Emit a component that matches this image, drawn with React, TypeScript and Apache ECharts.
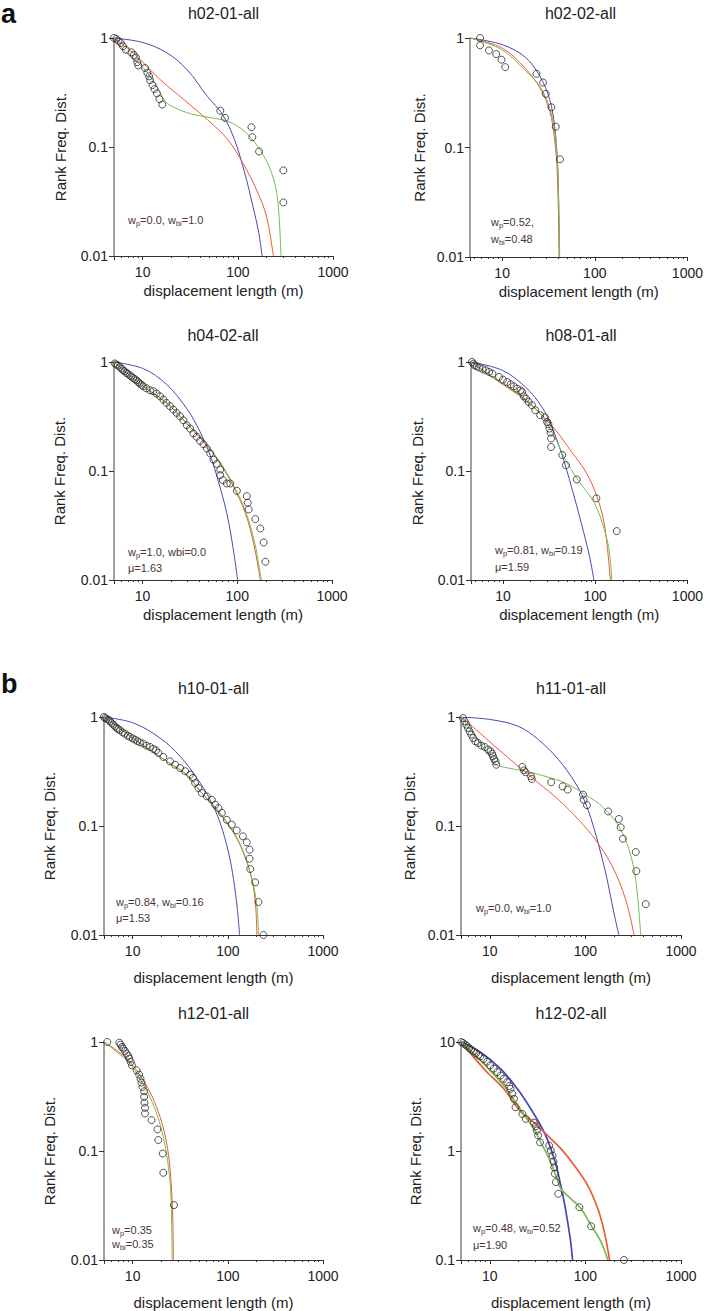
import React, { useEffect, useRef } from "react";
import * as echarts from "echarts";

type Pt = [number, number];

// ---------- text ----------
const panelTitles = ["h02-01-all", "h02-02-all", "h04-02-all", "h08-01-all", "h10-01-all", "h11-01-all", "h12-01-all", "h12-02-all"];
const xAxisName = "displacement length (m)";
const yAxisName = "Rank Freq. Dist.";
const groupLetters = ["a", "b"];
const annotations: string[][] = [
  ["{n|w}{s|p}{n|=0.0, w}{s|bi}{n|=1.0}"],
  ["{n|w}{s|p}{n|=0.52,}", "{n|w}{s|bi}{n|=0.48}"],
  ["{n|w}{s|p}{n|=1.0, wbi=0.0}", "{n|μ=1.63}"],
  ["{n|w}{s|p}{n|=0.81, w}{s|bi}{n|=0.19}", "{n|μ=1.59}"],
  ["{n|w}{s|p}{n|=0.84, w}{s|bi}{n|=0.16}", "{n|μ=1.53}"],
  ["{n|w}{s|p}{n|=0.0, w}{s|bi}{n|=1.0}"],
  ["{n|w}{s|p}{n|=0.35}", "{n|w}{s|bi}{n|=0.35}"],
  ["{n|w}{s|p}{n|=0.48, w}{s|bi}{n|=0.52}", "{n|μ=1.90}"],
];

// ---------- axis ranges ----------
const xMins = [5, 4.5, 5, 4.5, 5, 5, 5, 5];
const xMax = 1000;
const yMins = [0.01, 0.01, 0.01, 0.01, 0.01, 0.01, 0.01, 0.1];
const yMaxs = [1, 1, 1, 1, 1, 1, 1, 10];

// ---------- data: observed (circles), exponential (blue), power law (red), bi-exponential (green) ----------
const h0201Obs: Pt[] = [[5.0,1.0],[5.29,0.98],[5.56,0.945],[5.89,0.9],[6.22,0.84],[6.65,0.78],[7.64,0.74],[8.09,0.7],[8.49,0.66],[8.77,0.6],[8.99,0.56],[10.6,0.53],[11.2,0.48],[11.7,0.445],[12.0,0.41],[12.7,0.37],[13.3,0.34],[14.1,0.31],[15.0,0.275],[16.1,0.245],[65.5,0.215],[73.3,0.185],[139,0.152],[142,0.123],[167,0.091],[301,0.061],[301,0.031]];
const h0201Exp: Pt[] = [[5,1],[10,0.91],[18,0.73],[29.4,0.51],[48,0.29],[69.2,0.198],[92.2,0.117],[118,0.058],[144,0.0286],[166,0.0163],[180,0.01]];
const h0201Pow: Pt[] = [[5,1],[7.96,0.73],[15.3,0.415],[27.1,0.272],[48,0.178],[78.4,0.117],[113,0.071],[157,0.0406],[200,0.0231],[236,0.01]];
const h0201Bi: Pt[] = [[5,1],[6.76,0.73],[10.2,0.53],[14.1,0.36],[17.3,0.262],[22.1,0.228],[31.9,0.202],[48,0.188],[78.4,0.172],[118,0.139],[170,0.095],[226,0.058],[262,0.033],[284,0.01]];

const h0202Obs: Pt[] = [[5.78,1.0],[5.78,0.857],[7.21,0.77],[8.63,0.713],[9.84,0.634],[10.8,0.542],[23.5,0.471],[27.7,0.392],[29.6,0.309],[34.0,0.233],[37.9,0.155],[42.1,0.078]];
const h0202Exp: Pt[] = [[4.5,1],[10,0.87],[17.7,0.67],[25.6,0.446],[32.7,0.272],[36.9,0.155],[39.4,0.077],[40.7,0.033],[41.4,0.01]];
const h0202Pow: Pt[] = [[4.5,1],[10,0.81],[17.7,0.53],[25.6,0.35],[32.7,0.213],[36.9,0.117],[39.4,0.058],[41.4,0.01]];
const h0202Bi: Pt[] = [[4.5,1],[10,0.78],[17.7,0.505],[25.6,0.36],[32.7,0.228],[37.6,0.126],[40,0.058],[41.8,0.01]];

const h0402Obs: Pt[] = [[4.97,1.0],[5.1,0.97],[5.3,0.946],[5.5,0.93],[5.75,0.9],[6.0,0.87],[6.24,0.839],[6.5,0.82],[6.77,0.793],[7.0,0.78],[7.34,0.755],[7.6,0.735],[7.96,0.713],[8.3,0.695],[8.64,0.679],[9.0,0.655],[9.37,0.634],[9.8,0.615],[10.2,0.598],[11.0,0.574],[12.0,0.55],[13.0,0.539],[14.1,0.513],[15.3,0.484],[16.6,0.452],[17.9,0.421],[19.5,0.393],[21.1,0.366],[22.9,0.341],[24.9,0.318],[27.0,0.292],[29.3,0.263],[31.8,0.245],[34.4,0.221],[37.3,0.206],[40.5,0.189],[44.0,0.176],[47.7,0.161],[51.7,0.145],[56.1,0.127],[60.8,0.116],[66.1,0.103],[66.1,0.0916],[70.5,0.0824],[77.6,0.0768],[84.3,0.0768],[99.1,0.0658],[126,0.0588],[129,0.0511],[132,0.0444],[155,0.0362],[175,0.0297],[190,0.0221],[198,0.0147]];
const h0402Exp: Pt[] = [[4.97,1],[10.2,0.869],[17.9,0.624],[29.3,0.374],[40.5,0.229],[51.7,0.14],[63.4,0.0796],[77.6,0.0408],[89.9,0.0202],[101,0.01]];
const h0402Pow: Pt[] = [[4.97,1],[10.2,0.598],[17.9,0.421],[29.3,0.272],[44.0,0.185],[66.1,0.117],[91.4,0.0716],[122,0.0408],[149,0.0217],[168,0.0124],[175,0.01]];
const h0402Bi: Pt[] = [[4.97,1],[10.2,0.6],[17.9,0.425],[29.3,0.275],[44.0,0.19],[66.1,0.12],[91.4,0.074],[122,0.043],[152,0.0225],[172,0.0126],[180,0.01]];

const h0801Obs: Pt[] = [[4.61,1.0],[4.77,0.965],[4.93,0.932],[5.18,0.913],[5.53,0.887],[6.01,0.863],[6.52,0.839],[7.08,0.81],[7.69,0.782],[9.06,0.729],[10,0.689],[11.1,0.655],[12.1,0.624],[13.1,0.598],[14.2,0.57],[15.5,0.55],[16.1,0.531],[16.8,0.484],[17.8,0.461],[19.0,0.43],[20.6,0.401],[22.4,0.361],[25.3,0.325],[28.6,0.31],[30.1,0.282],[31.1,0.269],[31.9,0.245],[32.7,0.225],[33.2,0.199],[33.2,0.166],[44.0,0.14],[48.1,0.113],[63.1,0.0836],[103,0.0561],[171,0.0281]];
const h0801Exp: Pt[] = [[4.5,1],[9.84,0.839],[17.5,0.59],[26.4,0.387],[33.8,0.254],[43.2,0.145],[55.3,0.0716],[70.8,0.033],[86.9,0.0164],[96.8,0.01]];
const h0801Pow: Pt[] = [[4.5,1],[9.06,0.656],[17.5,0.446],[28.6,0.303],[39.8,0.221],[55.3,0.15],[76.9,0.102],[98.4,0.0668],[121,0.038],[134,0.0217],[146,0.01]];
const h0801Bi: Pt[] = [[4.5,1],[9.06,0.67],[17.5,0.455],[25.3,0.336],[32,0.25],[38,0.19],[46.9,0.13],[65.2,0.0824],[98.4,0.0504],[126,0.0287],[143,0.0176],[151,0.01]];

const h1001Obs: Pt[] = [[4.99,1.0],[5.15,0.979],[5.32,0.958],[5.58,0.945],[5.77,0.912],[6.01,0.881],[6.25,0.851],[6.52,0.821],[6.79,0.793],[7.07,0.776],[7.36,0.755],[7.85,0.723],[8.3,0.703],[8.86,0.674],[9.38,0.656],[10.0,0.637],[10.6,0.619],[11.2,0.602],[11.9,0.586],[12.9,0.569],[14.0,0.546],[15.2,0.531],[16.5,0.509],[17.6,0.494],[18.6,0.468],[21.0,0.43],[24.7,0.392],[27.9,0.365],[31.5,0.34],[35.6,0.318],[40.1,0.296],[42.9,0.276],[45.3,0.248],[49.1,0.223],[53.2,0.201],[60.1,0.187],[67.9,0.174],[73.6,0.157],[79.8,0.146],[86.5,0.132],[97.5,0.114],[110,0.103],[124,0.0912],[144,0.0804],[158,0.0708],[169,0.0607],[169,0.0501],[172,0.0403],[194,0.0304],[210,0.0201],[237,0.01]];
const h1001Exp: Pt[] = [[5,1],[10.2,0.881],[19.4,0.641],[31.5,0.436],[47.2,0.276],[65.2,0.174],[83,0.107],[102,0.0565],[115,0.0322],[126,0.0171],[133,0.01]];
const h1001Pow: Pt[] = [[5,1],[10.6,0.619],[22.8,0.392],[37.0,0.296],[51.2,0.208],[76.6,0.141],[115,0.0863],[146,0.0565],[179,0.0322],[196,0.0183],[202,0.01]];
const h1001Bi: Pt[] = [[5,1],[10.6,0.619],[22.8,0.392],[37.0,0.296],[51.2,0.21],[76.6,0.143],[115,0.088],[146,0.058],[179,0.033],[202,0.0185],[210,0.01]];

const h1101Obs: Pt[] = [[4.95,1.0],[5.24,0.979],[5.46,0.912],[5.68,0.851],[5.91,0.793],[6.15,0.739],[6.41,0.689],[6.68,0.642],[7.06,0.598],[7.53,0.577],[8.17,0.546],[8.85,0.531],[9.6,0.501],[10.2,0.484],[10.6,0.461],[10.8,0.436],[11.1,0.412],[11.5,0.392],[11.7,0.365],[21.9,0.348],[22.8,0.324],[23.7,0.311],[27.0,0.286],[27.5,0.27],[43.9,0.252],[57.7,0.231],[65.2,0.216],[94.4,0.194],[95.9,0.174],[104,0.155],[173,0.136],[224,0.116],[234,0.0972],[247,0.0765],[336,0.0577],[341,0.0386],[428,0.0192]];
const h1101Exp: Pt[] = [[5,1],[10.4,0.945],[19.9,0.821],[32.3,0.619],[52.4,0.406],[78.5,0.248],[100,0.163],[127,0.0863],[163,0.037],[199,0.0159],[224,0.01]];
const h1101Pow: Pt[] = [[5,1],[7.53,0.739],[11.3,0.538],[19.9,0.353],[32.3,0.248],[52.4,0.174],[85.1,0.114],[127,0.075],[191,0.0427],[264,0.0211],[323,0.01]];
const h1101Bi: Pt[] = [[5,1],[7.53,0.619],[10.4,0.406],[11.7,0.365],[15.6,0.34],[23.3,0.318],[37.9,0.286],[61.5,0.248],[100,0.194],[150,0.151],[224,0.0993],[286,0.0607],[336,0.0322],[379,0.01]];

const h1201Obs: Pt[] = [[5.41,1.0],[7.24,0.986],[7.48,0.945],[7.72,0.9],[7.97,0.869],[8.3,0.828],[8.65,0.782],[9.0,0.745],[9.23,0.704],[9.53,0.656],[9.84,0.611],[11.0,0.55],[11.7,0.502],[12.1,0.461],[12.4,0.424],[12.7,0.387],[13.2,0.353],[13.2,0.313],[13.3,0.278],[13.5,0.249],[13.5,0.221],[15.8,0.192],[18.2,0.158],[18.6,0.126],[20.7,0.0948],[21.0,0.0631],[27.2,0.0319]];
const h1201Pow: Pt[] = [[5,1],[6.79,0.839],[9.37,0.656],[11.9,0.495],[15.2,0.348],[18.6,0.229],[21.9,0.14],[24.3,0.0796],[25.7,0.0423],[26.4,0.0241],[26.8,0.01]];
const h1201Bi: Pt[] = [[5,1],[6.79,0.81],[9.37,0.634],[11.9,0.461],[15.2,0.313],[18.6,0.199],[21.9,0.113],[24.3,0.0601],[25.4,0.0342],[26.0,0.01]];

const h1202Obs: Pt[] = [[5.03,10],[5.25,9.8],[5.5,9.5],[5.77,9.2],[6.1,8.8],[6.4,8.5],[6.79,8.2],[7.2,7.9],[7.6,7.6],[7.98,7.4],[8.6,7.0],[9.37,6.6],[10.1,6.1],[11.0,5.7],[12.0,5.3],[13.0,4.93],[14.0,4.6],[15.2,4.28],[16.0,3.95],[16.5,3.72],[17.2,3.35],[17.9,3.01],[18.6,2.52],[21.9,2.19],[23.8,1.97],[29.0,1.82],[30.3,1.69],[31.0,1.54],[32.0,1.39],[33.6,1.2],[41.8,1.12],[43.5,1.01],[45.3,0.91],[46.4,0.8],[47.2,0.71],[48.0,0.618],[49.2,0.518],[52.0,0.405],[86.5,0.305],[115,0.204],[253,0.1]];
const h1202Exp: Pt[] = [[5,10],[7.98,8.06],[13.0,5.68],[19.4,3.72],[26.8,2.44],[37.0,1.49],[47.2,0.848],[55.4,0.482],[62.7,0.275],[69.5,0.156],[73.5,0.1]];
const h1202Pow: Pt[] = [[5,10],[6.79,7.26],[9.37,5.28],[14.0,3.72],[21.0,2.3],[29.0,1.82],[40.1,1.39],[55.4,1.05],[76.6,0.736],[106,0.482],[135,0.295],[158,0.18],[179,0.1]];
const h1202Bi: Pt[] = [[5,10],[6.79,7.8],[9.37,5.87],[14.0,3.99],[18.6,2.81],[23.8,2.04],[29.0,1.6],[34.2,1.2],[41.8,0.848],[49.2,0.595],[55.4,0.45],[70.6,0.364],[90.1,0.295],[115,0.207],[146,0.146],[172,0.1]];

const observed = [h0201Obs, h0202Obs, h0402Obs, h0801Obs, h1001Obs, h1101Obs, h1201Obs, h1202Obs];
const expFits = [h0201Exp, h0202Exp, h0402Exp, h0801Exp, h1001Exp, h1101Exp, null, h1202Exp];
const powFits = [h0201Pow, h0202Pow, h0402Pow, h0801Pow, h1001Pow, h1101Pow, h1201Pow, h1202Pow];
const biFits = [h0201Bi, h0202Bi, h0402Bi, h0801Bi, h1001Bi, h1101Bi, h1201Bi, h1202Bi];

// ---------- layout (pixels) ----------
const FONT = "'Liberation Sans', Arial, Helvetica, sans-serif";
const layout = [
  { left: 114, top: 38, width: 219, height: 218, titleY: 13, yGap: 46, xGap: 27, noteX: 128, noteY: [220] },
  { left: 470, top: 38, width: 221, height: 219, titleY: 13, yGap: 43, xGap: 27, noteX: 491, noteY: [222, 239] },
  { left: 114, top: 362, width: 218, height: 218, titleY: 335, yGap: 47, xGap: 27, noteX: 128, noteY: [552, 568] },
  { left: 471, top: 362, width: 220, height: 218, titleY: 335, yGap: 46, xGap: 27, noteX: 495, noteY: [550, 567] },
  { left: 104, top: 717, width: 219, height: 218, titleY: 688, yGap: 47, xGap: 35, noteX: 116, noteY: [902, 918] },
  { left: 461, top: 717, width: 220, height: 218, titleY: 688, yGap: 44, xGap: 35, noteX: 476, noteY: [908] },
  { left: 104, top: 1042, width: 219, height: 218, titleY: 1013, yGap: 47, xGap: 35, noteX: 112, noteY: [1230, 1244] },
  { left: 461, top: 1042, width: 220, height: 218, titleY: 1013, yGap: 38, xGap: 35, noteX: 473, noteY: [1228, 1245] },
];
const letterPos = [[1, 14], [1, 684]];

const BLUE = "#4d44b8";
const RED = "#ec5a32";
const GREEN = "#78bc4e";

function decadeLabel(v: number): string {
  const e = Math.log10(v);
  if (Math.abs(e - Math.round(e)) > 1e-6) return "";
  return String(Number(v.toPrecision(6)));
}

function buildOption(): any {
  const grid: any[] = [];
  const xAxis: any[] = [];
  const yAxis: any[] = [];
  const series: any[] = [];
  const graphic: any[] = [];

  layout.forEach((L, i) => {
    grid.push({ left: L.left, top: L.top, width: L.width, height: L.height, containLabel: false });
    xAxis.push({
      type: "log",
      logBase: 10,
      gridIndex: i,
      min: xMins[i],
      max: xMax,
      name: xAxisName,
      nameLocation: "middle",
      nameGap: L.xGap,
      nameTextStyle: { fontSize: 15, color: "#222", fontFamily: FONT, verticalAlign: "top" },
      axisLine: { show: true, onZero: false, lineStyle: { color: "#333", width: 1 } },
      axisTick: { show: true, inside: false, length: 4, lineStyle: { color: "#333", width: 1 } },
      minorTick: { show: true, splitNumber: 9, length: 2, lineStyle: { color: "#333", width: 1 } },
      splitLine: { show: false },
      minorSplitLine: { show: false },
      axisLabel: { fontSize: 14, color: "#222", fontFamily: FONT, margin: 9, formatter: decadeLabel },
    });
    yAxis.push({
      type: "log",
      logBase: 10,
      gridIndex: i,
      min: yMins[i],
      max: yMaxs[i],
      name: yAxisName,
      nameLocation: "middle",
      nameGap: L.yGap,
      nameTextStyle: { fontSize: 15, color: "#222", fontFamily: FONT },
      axisLine: { show: true, onZero: false, lineStyle: { color: "#808080", width: 1.5 } },
      axisTick: { show: true, inside: false, length: 5, lineStyle: { color: "#333", width: 1 } },
      minorTick: { show: false },
      splitLine: { show: false },
      axisLabel: { fontSize: 14, color: "#222", fontFamily: FONT, margin: 6, formatter: decadeLabel },
    });

    const lw = i === 7 ? 1.7 : 1;
    const fits: [Pt[] | null, string][] = [[expFits[i], BLUE], [powFits[i], RED], [biFits[i], GREEN]];
    fits.forEach(([d, c]) => {
      if (!d) return;
      series.push({
        type: "line",
        xAxisIndex: i,
        yAxisIndex: i,
        data: d,
        showSymbol: false,
        smooth: 0.35,
        lineStyle: { color: c, width: lw },
        itemStyle: { color: c },
        silent: true,
        z: 2,
      });
    });
    series.push({
      type: "scatter",
      xAxisIndex: i,
      yAxisIndex: i,
      data: observed[i],
      symbol: "circle",
      symbolSize: 7,
      itemStyle: { color: "rgba(255,255,255,0)", borderColor: "#2a2a2a", borderWidth: 1 },
      silent: true,
      z: 3,
    });

    graphic.push({
      type: "text",
      x: L.left + L.width / 2,
      y: L.titleY,
      style: {
        text: panelTitles[i],
        font: `16px ${FONT}`,
        fill: "#222",
        align: "center",
        verticalAlign: "middle",
        textAlign: "center",
        textVerticalAlign: "middle",
      },
    });

    annotations[i].forEach((t, k) => {
      graphic.push({
        type: "text",
        x: L.noteX,
        y: L.noteY[k],
        style: {
          text: t,
          fill: "#4a3434",
          font: `11px ${FONT}`,
          align: "left",
          verticalAlign: "middle",
          textAlign: "left",
          textVerticalAlign: "middle",
          rich: {
            n: { fontSize: 11, fontFamily: FONT, fill: "#4a3434", lineHeight: 14 },
            s: { fontSize: 7.5, fontFamily: FONT, fill: "#4a3434", lineHeight: 6, verticalAlign: "bottom" },
          },
        },
      });
    });
  });

  groupLetters.forEach((g, k) => {
    graphic.push({
      type: "text",
      x: letterPos[k][0],
      y: letterPos[k][1],
      style: {
        text: g,
        font: `bold 27px ${FONT}`,
        fill: "#111",
        align: "left",
        verticalAlign: "middle",
        textAlign: "left",
        textVerticalAlign: "middle",
      },
    });
  });

  return {
    animation: false,
    backgroundColor: "#fff",
    textStyle: { fontFamily: FONT },
    grid,
    xAxis,
    yAxis,
    series,
    graphic,
  };
}

export default function App() {
  const ref = useRef<HTMLDivElement>(null);
  useEffect(() => {
    if (!ref.current) return;
    const chart = echarts.init(ref.current, null, { renderer: "svg" });
    chart.setOption(buildOption());
    return () => chart.dispose();
  }, []);
  return (
    <div
      ref={ref}
      style={{ position: "absolute", left: 0, top: 0, width: 706, height: 1311, background: "#fff" }}
    />
  );
}
